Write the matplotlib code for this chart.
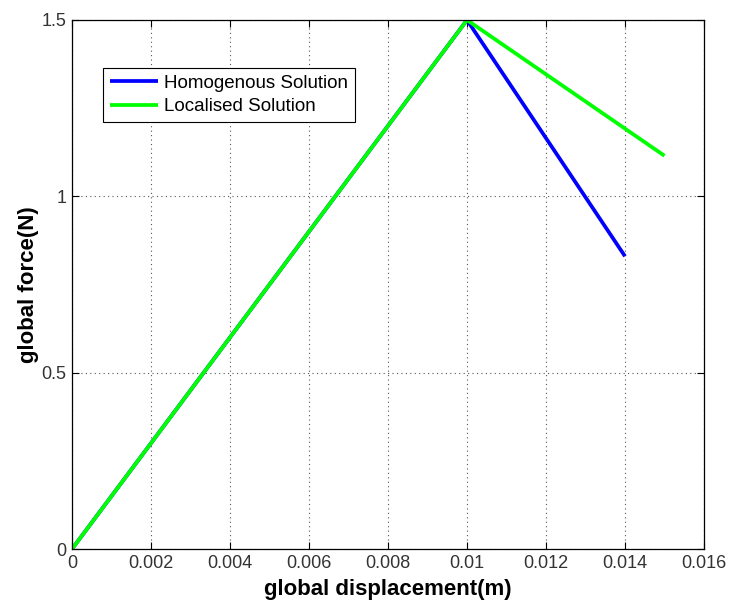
import matplotlib
matplotlib.use("Agg")
import matplotlib.pyplot as plt

plt.rcParams['font.family'] = ['Liberation Sans', 'DejaVu Sans']

homog_x = [0.0, 0.01, 0.014]
homog_y = [0.0, 1.5, 0.83]
local_x = [0.0, 0.01, 0.015]
local_y = [0.0, 1.5, 1.115]
xticks = [0, 0.002, 0.004, 0.006, 0.008, 0.01, 0.012, 0.014, 0.016]
xtick_labels = ['0', '0.002', '0.004', '0.006', '0.008', '0.01', '0.012', '0.014', '0.016']
yticks = [0, 0.5, 1, 1.5]
ytick_labels = ['0', '0.5', '1', '1.5']

fig = plt.figure(figsize=(7.32, 6.07), dpi=100)
ax = fig.add_axes([72/732, 58/607, (704-72)/732, (549-20)/607])

ax.plot(homog_x, homog_y, color='#0000ff', lw=2.7, label='Homogenous Solution', solid_capstyle='butt')
ax.plot(local_x, local_y, color='#00ff00', lw=2.7, label='Localised Solution', solid_capstyle='butt')

ax.set_xlim(0, 0.016)
ax.set_ylim(0, 1.5)
ax.set_xticks(xticks)
ax.set_xticklabels(xtick_labels)
ax.set_yticks(yticks)
ax.set_yticklabels(ytick_labels)
ax.tick_params(direction='in', top=True, right=True, labelsize=13, colors='black', length=5, width=0.8, pad=4)
for lab in ax.get_xticklabels() + ax.get_yticklabels():
    lab.set_color('#333333')
ax.grid(True, linestyle=(0, (1, 3)), color='#555555', linewidth=0.8)
for s in ax.spines.values():
    s.set_linewidth(0.9)

ax.set_xlabel('global displacement(m)', fontsize=16, fontweight='bold', labelpad=5)
ax.set_ylabel('global force(N)', fontsize=16, fontweight='bold', labelpad=2)

leg = ax.legend(loc='upper left', bbox_to_anchor=(31/632, 1 - 48/529), fontsize=13.5,
                frameon=True, fancybox=False, edgecolor='black', framealpha=1,
                handlelength=2.6, handletextpad=0.3, borderpad=0.35, labelspacing=0.35,
                borderaxespad=0)
leg.get_frame().set_linewidth(0.8)

fig.savefig('out.png', dpi=100)
